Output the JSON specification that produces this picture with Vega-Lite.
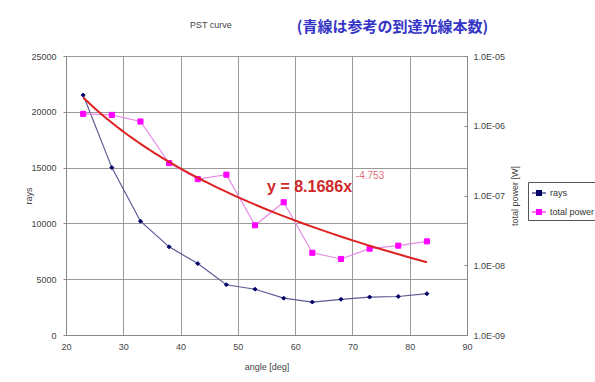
{
  "$schema": "https://vega.github.io/schema/vega-lite/v6.json",
  "autosize": {"type": "none"},
  "width": 401,
  "height": 279,
  "padding": {"left": 66, "top": 56, "right": 128, "bottom": 47},
  "background": "white",
  "data": {"values": [
    {"angle": 23, "rays": 21500, "power": 1.48e-6},
    {"angle": 28, "rays": 15000, "power": 1.43e-6},
    {"angle": 33, "rays": 10200, "power": 1.15e-6},
    {"angle": 38, "rays": 7900, "power": 2.92e-7},
    {"angle": 43, "rays": 6400, "power": 1.72e-7},
    {"angle": 48, "rays": 4500, "power": 1.99e-7},
    {"angle": 53, "rays": 4100, "power": 3.74e-8},
    {"angle": 58, "rays": 3300, "power": 8.0e-8},
    {"angle": 63, "rays": 2950, "power": 1.51e-8},
    {"angle": 68, "rays": 3200, "power": 1.23e-8},
    {"angle": 73, "rays": 3400, "power": 1.73e-8},
    {"angle": 78, "rays": 3450, "power": 1.91e-8},
    {"angle": 83, "rays": 3700, "power": 2.2e-8}
  ]},
  "layer": [
    {"layer": [
      {"mark": {"type": "line", "color": "#5a5a96", "strokeWidth": 1.2},
       "encoding": {
         "x": {"field": "angle", "type": "quantitative", "title": "angle [deg]",
           "scale": {"domain": [20, 90], "nice": false},
           "axis": {"values": [20, 30, 40, 50, 60, 70, 80, 90], "grid": true, "ticks": false, "labelPadding": 7, "titlePadding": 11, "labelFlush": false}},
         "y": {"field": "rays", "type": "quantitative", "title": "rays",
         "scale": {"domain": [0, 25000], "nice": false},
         "axis": {"values": [0, 5000, 10000, 15000, 20000, 25000], "grid": true, "tickSize": 3, "labelPadding": 7, "titlePadding": -3, "format": "d"}}}},
      {"mark": {"type": "point", "filled": true, "shape": "diamond", "size": 16, "strokeWidth": 1, "opacity": 1},
       "encoding": {
         "x": {"field": "angle", "type": "quantitative"},
         "y": {"field": "rays", "type": "quantitative"},
         "fill": {"datum": "rays", "type": "nominal",
           "scale": {"domain": ["rays", "total power"], "range": ["#000066", "#ff00ff"]},
           "legend": {"orient": "none", "legendX": 462, "legendY": 126, "title": null, "strokeColor": "#555555", "fillColor": "white", "padding": 3, "rowPadding": 6, "labelFontSize": 9, "labelOffset": 3, "labelFont": "Liberation Sans", "labelColor": "#333333", "symbolType": "M-1,0H1M-0.35,-0.35H0.35V0.35H-0.35Z", "symbolSize": 196, "symbolStrokeWidth": 1.2}},
         "stroke": {"datum": "rays", "type": "nominal",
           "scale": {"domain": ["rays", "total power"], "range": ["#000066", "#ff00ff"]},
           "legend": {"orient": "none", "legendX": 462, "legendY": 126, "title": null, "strokeColor": "#555555", "fillColor": "white", "padding": 3, "rowPadding": 6, "labelFontSize": 9, "labelOffset": 3, "labelFont": "Liberation Sans", "labelColor": "#333333", "symbolType": "M-1,0H1M-0.35,-0.35H0.35V0.35H-0.35Z", "symbolSize": 196, "symbolStrokeWidth": 1.2}}}},
      {"data": {"values": [{"label": "PST curve"}]},
       "mark": {"type": "text", "font": "Liberation Sans", "fontSize": 9, "color": "#444444", "align": "center", "baseline": "middle"},
       "encoding": {"x": {"datum": 45.3, "type": "quantitative"},
         "y": {"datum": 27800, "type": "quantitative"},
         "text": {"field": "label", "type": "nominal"}}},
      {"data": {"values": [{"label": "(青線は参考の到達光線本数)"}]},
       "mark": {"type": "text", "font": "Noto Sans CJK JP", "fontSize": 15, "fontWeight": "bold", "color": "#3535c5", "align": "center", "baseline": "middle"},
       "encoding": {"x": {"datum": 77, "type": "quantitative"},
         "y": {"datum": 27577, "type": "quantitative"},
         "text": {"field": "label", "type": "nominal"}}},
      {"data": {"values": [{"label": "y = 8.1686x"}]},
       "mark": {"type": "text", "font": "Liberation Sans", "fontSize": 16, "fontWeight": "bold", "color": "#d02828", "align": "left", "baseline": "alphabetic"},
       "encoding": {"x": {"datum": 55.1, "type": "quantitative"},
         "y": {"datum": 12837, "type": "quantitative"},
         "text": {"field": "label", "type": "nominal"}}},
      {"data": {"values": [{"label": "-4.753"}]},
       "mark": {"type": "text", "font": "Liberation Sans", "fontSize": 10, "color": "#e07080", "align": "left", "baseline": "alphabetic"},
       "encoding": {"x": {"datum": 70.6, "type": "quantitative"},
         "y": {"datum": 13977, "type": "quantitative"},
         "text": {"field": "label", "type": "nominal"}}}
    ]},
    {"layer": [
      {"mark": {"type": "line", "color": "#e58de5", "strokeWidth": 1.2},
       "encoding": {
         "x": {"field": "angle", "type": "quantitative"},
         "y": {"field": "power", "type": "quantitative", "title": "total power [W]",
         "scale": {"type": "log", "domain": [1e-9, 1e-5], "nice": false},
         "axis": {"orient": "right", "values": [1e-9, 1e-8, 1e-7, 1e-6, 1e-5], "grid": false, "ticks": true, "tickSize": -3, "labelPadding": 9, "titlePadding": 15, "titleAngle": -90,
           "labelExpr": "'1.0E-0' + round(-log(datum.value) / LN10)"}}}},
      {"mark": {"type": "point", "filled": true, "shape": "square", "size": 26, "strokeWidth": 1, "opacity": 1},
       "encoding": {
         "x": {"field": "angle", "type": "quantitative"},
         "y": {"field": "power", "type": "quantitative"},
         "fill": {"datum": "total power", "type": "nominal"},
         "stroke": {"datum": "total power", "type": "nominal"}}},
      {"transform": [{"regression": "power", "on": "angle", "method": "pow", "extent": [23, 83]}],
       "mark": {"type": "line", "color": "#dd2222", "strokeWidth": 2},
       "encoding": {
         "x": {"field": "angle", "type": "quantitative"},
         "y": {"field": "power", "type": "quantitative"}}}
    ]}
  ],
  "resolve": {"scale": {"y": "independent"}},
  "config": {
    "axis": {"labelFont": "Liberation Sans", "labelFontSize": 9, "labelColor": "#444444", "titleFont": "Liberation Sans", "titleFontSize": 9, "titleFontWeight": "normal", "titleColor": "#444444", "domainColor": "#888888", "tickColor": "#888888", "gridColor": "#999999", "gridOpacity": 1},
    "view": {"stroke": "#888888"}
  }
}
